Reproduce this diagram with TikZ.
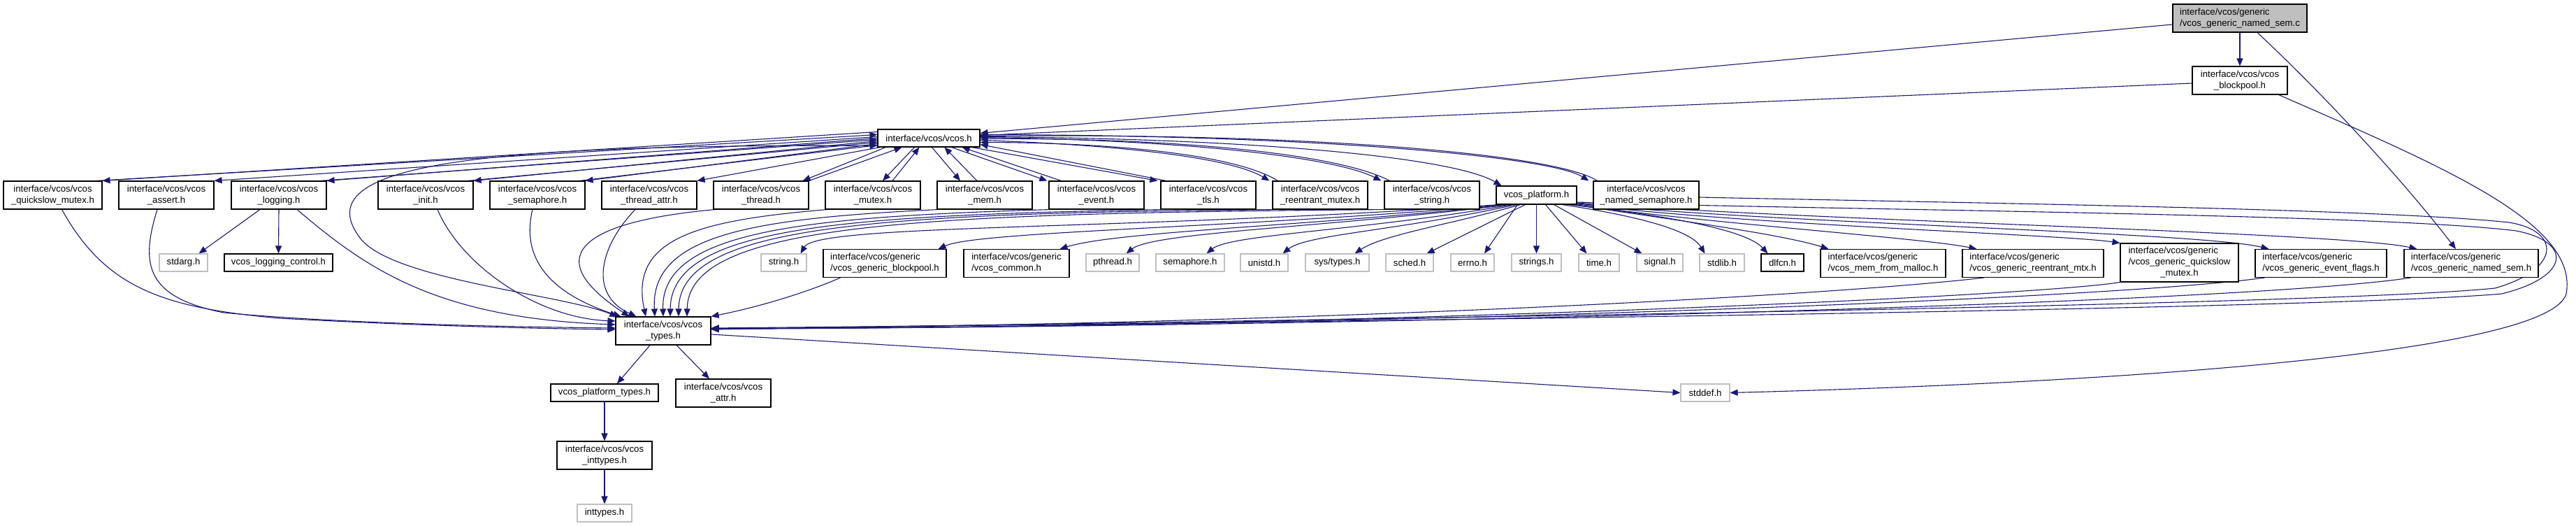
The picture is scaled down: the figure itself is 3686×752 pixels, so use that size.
\documentclass[tikz,border=0pt]{standalone}
\usepackage{fontspec}
\setmainfont{Liberation Sans}
\usetikzlibrary{arrows.meta,calc}
\definecolor{edgec}{HTML}{191970}
\definecolor{lgray}{HTML}{BFBFBF}
\newcommand{\nodefont}{\fontsize{13.2}{16}\selectfont}
\pgfdeclarelayer{bglayer}
\pgfdeclarelayer{edgelayer}
\pgfsetlayers{bglayer,edgelayer,main}
\begin{document}
\begin{tikzpicture}[x=1pt,y=-1pt,
  vbox/.style={draw=black, line width=1.1pt, fill=white, inner sep=0pt, align=center, font=\nodefont},
  sbox/.style={vbox, draw=lgray, minimum height=25pt},
  r1/.style={vbox, minimum width=136pt, minimum height=40pt},
  g2/.style={vbox, align=left, minimum height=40pt},
  dep/.style={draw=edgec, line width=1.1pt, -{Triangle[length=11pt,width=9pt]}},
]
\useasboundingbox (0,0) rectangle (3686,752);
\begin{pgfonlayer}{bglayer}
\fill[white] (0,0) rectangle (3686,752);
\end{pgfonlayer}

% ---------- nodes ----------
\node[vbox, fill=lgray, align=left, minimum width=192pt, minimum height=40pt] (root) at (3205,26) {interface/vcos/generic\\/vcos\_generic\_named\_sem.c};
\node[vbox, minimum width=136pt, minimum height=40pt] (bp) at (3205,115) {interface/vcos/vcos\\\_blockpool.h};
\node[vbox, minimum width=146pt, minimum height=25pt] (vcosh) at (1329,197.5) {interface/vcos/vcos.h};

\node[r1, minimum width=141pt] (qsm) at (75.5,279) {interface/vcos/vcos\\\_quickslow\_mutex.h};
\node[r1] (assert) at (238,279) {interface/vcos/vcos\\\_assert.h};
\node[r1] (logging) at (399,279) {interface/vcos/vcos\\\_logging.h};
\node[r1] (init) at (609,279) {interface/vcos/vcos\\\_init.h};
\node[r1] (sem) at (769,279) {interface/vcos/vcos\\\_semaphore.h};
\node[r1] (tattr) at (929,279) {interface/vcos/vcos\\\_thread\_attr.h};
\node[r1] (thread) at (1089,279) {interface/vcos/vcos\\\_thread.h};
\node[r1] (mutex) at (1249,279) {interface/vcos/vcos\\\_mutex.h};
\node[r1] (mem) at (1409,279) {interface/vcos/vcos\\\_mem.h};
\node[r1] (event) at (1569,279) {interface/vcos/vcos\\\_event.h};
\node[r1] (tls) at (1729,279) {interface/vcos/vcos\\\_tls.h};
\node[r1] (remutex) at (1889,279) {interface/vcos/vcos\\\_reentrant\_mutex.h};
\node[r1] (vstring) at (2049,279) {interface/vcos/vcos\\\_string.h};
\node[vbox, minimum width=115pt, minimum height=26pt] (platform) at (2198.5,279) {vcos\_platform.h};
\node[r1, minimum width=151pt] (namedsem) at (2355.5,279) {interface/vcos/vcos\\\_named\_semaphore.h};

\node[sbox, minimum width=69pt] (stdarg) at (262.5,375.5) {stdarg.h};
\node[vbox, minimum width=155pt, minimum height=25pt] (logctl) at (398.5,375.5) {vcos\_logging\_control.h};
\node[sbox, minimum width=65pt] (stringh) at (1121.5,375.5) {string.h};
\node[g2, minimum width=176pt] (gblk) at (1266,376.5) {interface/vcos/generic\\/vcos\_generic\_blockpool.h};
\node[g2, minimum width=151pt] (common) at (1454.5,376.5) {interface/vcos/generic\\/vcos\_common.h};
\node[sbox, minimum width=76pt] (pthread) at (1592,375.5) {pthread.h};
\node[sbox, minimum width=98pt] (semh) at (1703,375.5) {semaphore.h};
\node[sbox, minimum width=68pt] (unistd) at (1809,375.5) {unistd.h};
\node[sbox, minimum width=91pt] (systypes) at (1913.5,375.5) {sys/types.h};
\node[sbox, minimum width=68pt] (sched) at (2017,375.5) {sched.h};
\node[sbox, minimum width=62pt] (errno) at (2107,375.5) {errno.h};
\node[sbox, minimum width=71pt] (strings) at (2198.5,375.5) {strings.h};
\node[sbox, minimum width=58pt] (timeh) at (2288,375.5) {time.h};
\node[sbox, minimum width=66pt] (signal) at (2375,375.5) {signal.h};
\node[sbox, minimum width=64pt] (stdlib) at (2464,375.5) {stdlib.h};
\node[vbox, minimum width=61pt, minimum height=25pt] (dlfcn) at (2550.5,375.5) {dlfcn.h};
\node[g2, minimum width=179pt] (malloc) at (2694.5,376.5) {interface/vcos/generic\\/vcos\_mem\_from\_malloc.h};
\node[g2, minimum width=202pt] (remtx) at (2909,376.5) {interface/vcos/generic\\/vcos\_generic\_reentrant\_mtx.h};
\node[vbox, minimum width=169pt, minimum height=55pt] (gqsm) at (3118.5,375.5) {\begin{tabular}{@{}l@{}}interface/vcos/generic\\/vcos\_generic\_quickslow\\\multicolumn{1}{@{}c@{}}{\_mutex.h}\end{tabular}};
\node[g2, minimum width=188pt] (evflags) at (3321,376.5) {interface/vcos/generic\\/vcos\_generic\_event\_flags.h};
\node[g2, minimum width=192pt] (gnamedsem) at (3536,376.5) {interface/vcos/generic\\/vcos\_generic\_named\_sem.h};

\node[r1] (types) at (949,473) {interface/vcos/vcos\\\_types.h};
\node[vbox, minimum width=154pt, minimum height=25pt] (ptypes) at (865,561.5) {vcos\_platform\_types.h};
\node[r1] (attr) at (1035,562) {interface/vcos/vcos\\\_attr.h};
\node[sbox, minimum width=70pt] (stddef) at (2440,561.5) {stddef.h};
\node[r1] (vint) at (865,651) {interface/vcos/vcos\\\_inttypes.h};
\node[sbox, minimum width=78pt] (inttypes) at (865,733.5) {inttypes.h};

\begin{pgfonlayer}{edgelayer}
% ---------- top edges ----------
\draw[dep] ($(root.west)+(0,9)$) -- ($(vcosh.east)+(0,-7)$);
\draw[dep] ($(bp.west)+(0,4)$) -- ($(vcosh.east)+(0,-4)$);
\draw[dep] (root.south) -- (bp.north);
\draw[dep] ($(root.south)+(25,0)$) .. controls (3330,140) and (3440,260) .. ($(gnamedsem.north)+(-22,0)$);
\draw[dep] ($(bp.south east)+(-13,0)$) .. controls (3500,240) and (3690,320) .. (3672,420) .. controls (3650,500) and (3100,545) .. (stddef.east);

% ---------- vcos.h <-> left row ----------
\draw[dep] ($(vcosh.west)+(0,-9)$) -- (qsm.north east);
\draw[dep] ($(qsm.north east)+(-8,0)$) -- ($(vcosh.west)+(0,-5)$);
\draw[dep] ($(vcosh.west)+(0,-2)$) -- (assert.north east);
\draw[dep] (vcosh.west) -- (logging.north east);
\draw[dep] ($(logging.north east)+(-8,0)$) -- ($(vcosh.west)+(0,2)$);
\draw[dep] ($(vcosh.west)+(0,4)$) -- (init.north east);
\draw[dep] ($(init.north east)+(-8,0)$) -- ($(vcosh.west)+(0,6)$);
\draw[dep] ($(vcosh.west)+(0,8)$) -- (sem.north east);
\draw[dep] ($(sem.north east)+(-8,0)$) -- ($(vcosh.west)+(0,10)$);
\draw[dep] ($(vcosh.south west)+(4,0)$) -- (tattr.north east);
\draw[dep] ($(vcosh.south west)+(12,0)$) -- ($(thread.north east)+(-9,0)$);
\draw[dep] (thread.north east) -- ($(vcosh.south west)+(35,0)$);

% ---------- vcos.h <-> middle row ----------
\draw[dep] ($(vcosh.south west)+(53,0)$) -- ($(mutex.north)+(14,0)$);
\draw[dep] ($(mutex.north)+(28,0)$) -- ($(vcosh.south west)+(60,0)$);
\draw[dep] ($(vcosh.south west)+(78,0)$) -- ($(mem.north)+(-35,0)$);
\draw[dep] ($(mem.north)+(-11,0)$) -- ($(vcosh.south west)+(96,0)$);
\draw[dep] ($(vcosh.south west)+(106,0)$) -- ($(event.north west)+(-2,0)$);
\draw[dep] ($(event.north west)+(18,0)$) -- ($(vcosh.south east)+(-26,0)$);
\draw[dep] ($(vcosh.south east)+(-12,0)$) -- ($(tls.north west)+(-4,0)$);
\draw[dep] ($(tls.north west)+(8,0)$) -- ($(vcosh.east)+(0,9)$);

% ---------- vcos.h <-> right row ----------
\draw[dep] ($(vcosh.east)+(0,3)$) .. controls (1600,207) and (1760,225) .. ($(remutex.north west)+(-4,0)$);
\draw[dep] ($(remutex.north west)+(8,0)$) .. controls (1770,222) and (1600,204) .. ($(vcosh.east)+(0,6)$);
\draw[dep] ($(vcosh.east)+(0,-1)$) .. controls (1700,200) and (1910,225) .. ($(vstring.north west)+(-4,0)$);
\draw[dep] ($(vstring.north west)+(8,0)$) .. controls (1920,222) and (1700,197) .. ($(vcosh.east)+(0,1)$);
\draw[dep] ($(vcosh.east)+(0,-2)$) .. controls (1800,198) and (2080,225) .. ($(platform.north west)+(8,0)$);
\draw[dep] ($(vcosh.east)+(0,-5)$) .. controls (1900,193) and (2220,225) .. ($(namedsem.north west)+(-6,0)$);
\draw[dep] ($(namedsem.north west)+(6,0)$) .. controls (2230,222) and (1900,190) .. ($(vcosh.east)+(0,-3)$);

% ---------- into vcos_types (left) ----------
\draw[dep] ($(vcosh.west)+(0,11)$) .. controls (650,205) and (440,240) .. (515,340) .. controls (560,400) and (800,420) .. ($(types.north west)+(3,0)$);
\draw[dep] ($(qsm.south)+(13,0)$) .. controls (150,410) and (230,440) .. (400,455) .. controls (600,466) and (780,470) .. ($(types.west)+(0,-2)$);
\draw[dep] ($(assert.south)+(-13,0)$) .. controls (200,380) and (210,425) .. (320,447) .. controls (500,464) and (780,468) .. ($(types.west)+(0,-4)$);
\draw[dep] ($(logging.south)+(26,0)$) .. controls (520,380) and (620,455) .. ($(types.west)+(0,-9)$);
\draw[dep] ($(init.south)+(17,0)$) .. controls (660,380) and (770,455) .. ($(types.west)+(0,-14)$);
\draw[dep] ($(logging.south)+(-27,0)$) -- ($(stdarg.north)+(22,0)$);
\draw[dep] (logging.south) -- (logctl.north);

% ---------- into vcos_types (top) ----------
\draw[dep] ($(sem.south)+(-7,0)$) .. controls (740,390) and (820,430) .. ($(types.north west)+(8,0)$);
\draw[dep] ($(tattr.south)+(-20,0)$) .. controls (860,350) and (840,420) .. ($(types.north west)+(30,0)$);
\draw[dep] ($(thread.south west)+(3,0)$) .. controls (850,315) and (760,360) .. ($(types.north west)+(20,0)$);
\draw[dep] ($(mutex.south west)+(3,0)$) .. controls (1000,315) and (900,340) .. ($(types.north)+(-25,0)$);
\draw[dep] ($(mem.south west)+(3,0)$) .. controls (1080,312) and (930,335) .. ($(types.north)+(-12,0)$);
\draw[dep] ($(event.south west)+(3,0)$) .. controls (1150,310) and (945,330) .. (types.north);
\draw[dep] ($(tls.south west)+(3,0)$) .. controls (1200,308) and (960,325) .. ($(types.north)+(10,0)$);
\draw[dep] ($(remutex.south west)+(3,0)$) .. controls (1250,305) and (972,322) .. ($(types.north)+(22,0)$);
\draw[dep] ($(vstring.south west)+(3,0)$) .. controls (1300,305) and (985,320) .. ($(types.north)+(34,0)$);
\draw[dep] ($(gblk.south west)+(25,0)$) .. controls (1150,420) and (1080,440) .. (types.north east);

% ---------- vcos_platform fan ----------
\draw[dep] ($(platform.south west)+(5,0)$) .. controls (1600,330) and (1170,320) .. ($(stringh.north east)+(-9,0)$);
\draw[dep] ($(platform.south west)+(9,0)$) .. controls (1800,325) and (1400,330) .. ($(gblk.north east)+(-12,0)$);
\draw[dep] ($(platform.south west)+(14,0)$) .. controls (1900,322) and (1600,330) .. ($(common.north east)+(-14,0)$);
\draw[dep] ($(platform.south west)+(19,0)$) .. controls (1900,325) and (1650,332) .. ($(pthread.north east)+(-19,0)$);
\draw[dep] ($(platform.south west)+(24,0)$) .. controls (1950,330) and (1760,335) .. ($(semh.north east)+(-26,0)$);
\draw[dep] ($(platform.south west)+(29,0)$) .. controls (2000,330) and (1870,335) .. ($(unistd.north east)+(-8,0)$);
\draw[dep] ($(platform.south west)+(35,0)$) .. controls (2080,320) and (1980,335) .. ($(systypes.north east)+(-21,0)$);
\draw[dep] ($(platform.south west)+(42,0)$) -- ($(sched.north east)+(-10,0)$);
\draw[dep] ($(platform.south)+(-27,0)$) -- ($(errno.north)+(17,0)$);
\draw[dep] (platform.south) -- (strings.north);
\draw[dep] ($(platform.south)+(13,0)$) -- ($(timeh.north west)+(12,0)$);
\draw[dep] ($(platform.south)+(25,0)$) -- ($(signal.north west)+(8,0)$);
\draw[dep] ($(platform.south east)+(-21,0)$) .. controls (2350,310) and (2420,330) .. ($(stdlib.north west)+(8,0)$);
\draw[dep] ($(platform.south east)+(-11,0)$) .. controls (2400,310) and (2500,330) .. ($(dlfcn.north west)+(10,0)$);
\draw[dep] ($(platform.south east)+(-6,0)$) .. controls (2400,315) and (2550,335) .. ($(malloc.north west)+(12,0)$);
\draw[dep] ($(platform.south east)+(-4,0)$) .. controls (2450,320) and (2750,340) .. ($(remtx.north west)+(21,0)$);
\draw[dep] ($(platform.south east)+(-2,-1)$) .. controls (2500,322) and (2950,335) .. (gqsm.north west);
\draw[dep] ($(platform.east)+(0,12)$) .. controls (2550,320) and (3150,332) .. ($(evflags.north west)+(20,0)$);
\draw[dep] ($(platform.east)+(0,11)$) .. controls (2600,316) and (3350,332) .. ($(gnamedsem.north west)+(19,0)$);
\draw[dep] ($(platform.east)+(0,10)$) .. controls (2600,300) and (3400,305) .. (3600,330) .. controls (3680,345) and (3680,395) .. (3580,420) .. controls (3300,445) and (1500,465) .. ($(types.east)+(0,-4)$);

% ---------- generic headers and loops into vcos_types ----------
\draw[dep] ($(namedsem.east)+(0,3)$) .. controls (2800,290) and (3400,298) .. (3590,318) .. controls (3665,330) and (3665,385) .. (3570,412) .. controls (3300,440) and (1500,462) .. ($(types.east)+(0,-2)$);
\draw[dep] ($(remtx.south west)+(31,0)$) .. controls (2600,425) and (1800,465) .. ($(types.east)+(0,-3)$);
\draw[dep] (gqsm.south west) .. controls (2900,425) and (1900,468) .. ($(types.east)+(0,-3)$);
\draw[dep] ($(evflags.south west)+(14,0)$) .. controls (3000,430) and (1900,468) .. ($(types.east)+(0,-3)$);
\draw[dep] ($(gnamedsem.south west)+(10,0)$) .. controls (3200,435) and (1900,468) .. ($(types.east)+(0,-3)$);

% ---------- lower part ----------
\draw[dep] ($(types.south)+(-19,0)$) -- ($(ptypes.north)+(18,0)$);
\draw[dep] ($(types.south)+(19,0)$) -- ($(attr.north)+(-20,0)$);
\draw[dep] (ptypes.south) -- (vint.north);
\draw[dep] (vint.south) -- (inttypes.north);
\draw[dep] ($(types.east)+(0,5)$) -- (stddef.west);
\end{pgfonlayer}
\end{tikzpicture}
\end{document}
